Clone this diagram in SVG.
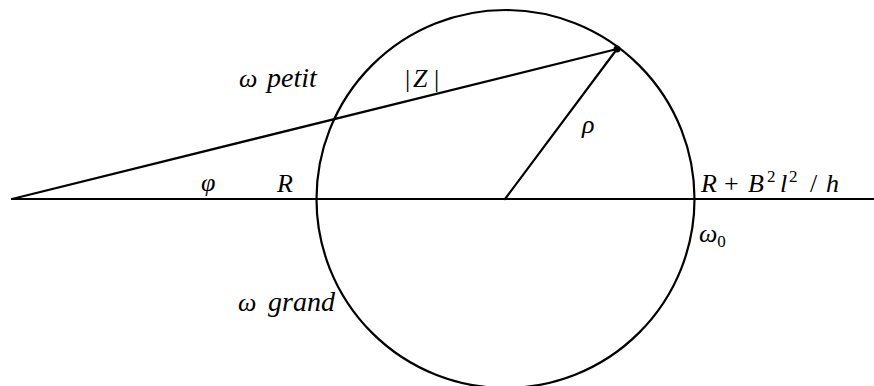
<svg xmlns="http://www.w3.org/2000/svg" width="874" height="386" viewBox="0 0 874 386">
<style>
.ln{stroke:#000;stroke-width:2.2;fill:none;stroke-linecap:round}
.t{font-family:"Liberation Serif","DejaVu Serif",serif;font-size:26px;fill:#000}
.i{font-style:italic}
.s{font-size:17px}
</style>
<rect width="874" height="386" fill="#fff"/>
<g id="connectors">
<line class="ln" x1="12" y1="199" x2="876" y2="199"/>
<line class="ln" x1="12" y1="199" x2="617" y2="49"/>
<line class="ln" x1="505" y1="199" x2="617" y2="49"/>
</g>
<g id="circle"><circle class="ln" cx="505.5" cy="199" r="189"/></g>
<g id="point"><circle cx="617" cy="49" r="3.5" fill="#000"/></g>
<g id="labels">
<text class="t i" x="239" y="87">ω<tspan x="267" font-size="28">petit</tspan></text>
<text class="t" x="405" y="87">|<tspan class="i" x="413">Z</tspan><tspan x="434">|</tspan></text>
<text class="t i" x="582" y="133">ρ</text>
<text class="t i" x="201" y="191">φ</text>
<text class="t i" x="277" y="192">R</text>
<text class="t" x="701" y="192"><tspan class="i">R</tspan><tspan x="724">+</tspan><tspan class="i" x="748">B</tspan><tspan class="s" x="767" dy="-10">2</tspan><tspan class="i" dy="10" x="780">l</tspan><tspan class="s" x="789" dy="-10">2</tspan><tspan dy="10" x="810">/</tspan><tspan class="i" x="826">h</tspan></text>
<text class="t" x="699" y="242"><tspan class="i">ω</tspan><tspan class="s" dy="5">0</tspan></text>
<text class="t i" x="238" y="311">ω<tspan x="268" font-size="28">grand</tspan></text>
</g>
</svg>
